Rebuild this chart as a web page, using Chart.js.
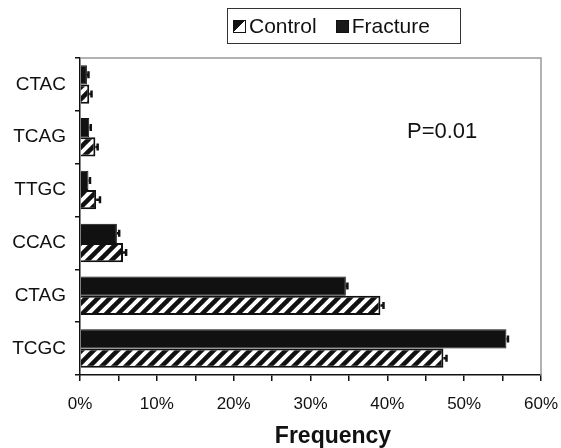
<!DOCTYPE html>
<html>
<head>
<meta charset="utf-8">
<script src="https://cdn.jsdelivr.net/npm/chart.js@4"></script>
<style>
  html, body { margin: 0; padding: 0; background: #fff; }
  #wrap { position: relative; width: 561px; height: 448px; }
  #legend {
    position: absolute; left: 227px; top: 8px; width: 232px; height: 34px;
    border: 1px solid #333; font-family: "Liberation Sans", Arial, sans-serif;
    font-size: 21px; color: #111; display: flex; align-items: center;
  }
  .item { display: flex; align-items: center; margin-left: 5px; }
  .item + .item { margin-left: 19px; }
  .box { width: 11px; height: 11px; border: 1.5px solid #111; margin-right: 3px; }
  .hatch { background: linear-gradient(135deg, #111 50%, #fff 50%); }
  .solid { background: #1a1a1a; }
</style>
</head>
<body>
<div id="wrap">
  <canvas id="freqChart" width="561" height="448"></canvas>
  <div id="legend">
    <div class="item"><span class="box hatch"></span>Control</div>
    <div class="item"><span class="box solid"></span>Fracture</div>
  </div>
</div>
<script>
  // categories, top to bottom
  const haplotypes = ['CTAC', 'TCAG', 'TTGC', 'CCAC', 'CTAG', 'TCGC'];
  // frequencies in %
  const fractureFreq = [0.9, 1.2, 1.1, 4.8, 34.6, 55.5];
  const controlFreq = [1.2, 2.0, 2.1, 5.6, 39.1, 47.3];
  const fractureErr = [0.2, 0.2, 0.2, 0.3, 0.2, 0.2];
  const controlErr = [0.3, 0.3, 0.5, 0.4, 0.4, 0.4];
  const xTicks = [0, 10, 20, 30, 40, 50, 60];
  const pValue = 'P=0.01';

  const FONT = '"Liberation Sans", Arial, sans-serif';

  // diagonal hatch for the control bars
  function makeHatch() {
    const s = 12;
    const c = document.createElement('canvas');
    c.width = s; c.height = s;
    const g = c.getContext('2d');
    g.fillStyle = '#fff';
    g.fillRect(0, 0, s, s);
    g.strokeStyle = '#111';
    g.lineWidth = 4.5;
    [[0, s, s, 0], [-s / 2, s / 2, s / 2, -s / 2], [s / 2, s * 1.5, s * 1.5, s / 2]].forEach(l => {
      g.beginPath(); g.moveTo(l[0], l[1]); g.lineTo(l[2], l[3]); g.stroke();
    });
    return g.createPattern(c, 'repeat');
  }
  const ctx = document.getElementById('freqChart').getContext('2d');
  const hatch = makeHatch();

  // frame, error bars, P text, axis title
  const extras = {
    id: 'extras',
    afterDatasetsDraw(chart) {
      const c = chart.ctx;
      const a = chart.chartArea;
      const xs = chart.scales.x;
      c.save();
      c.strokeStyle = '#999';
      c.lineWidth = 1.5;
      c.beginPath();
      c.moveTo(a.left, a.top); c.lineTo(a.right, a.top); c.lineTo(a.right, a.bottom);
      c.stroke();

      const errs = [fractureErr, controlErr];
      c.strokeStyle = '#111';
      c.lineWidth = 2.5;
      chart.data.datasets.forEach((ds, di) => {
        chart.getDatasetMeta(di).data.forEach((bar, i) => {
          const x0 = xs.getPixelForValue(ds.data[i]);
          const x1 = xs.getPixelForValue(ds.data[i] + errs[di][i]);
          c.beginPath();
          c.moveTo(x0, bar.y); c.lineTo(x1, bar.y);
          c.moveTo(x1, bar.y - 3.5); c.lineTo(x1, bar.y + 3.5);
          c.stroke();
        });
      });

      c.fillStyle = '#111';
      c.font = '22px ' + FONT;
      c.textAlign = 'left';
      c.textBaseline = 'alphabetic';
      c.fillText(pValue, 407, 138);

      c.font = 'bold 23px ' + FONT;
      c.textAlign = 'center';
      c.fillText('Frequency', 333, 443);
      c.restore();
    }
  };

  const freqChart = new Chart(ctx, {
    type: 'bar',
    data: {
      labels: haplotypes,
      datasets: [
        {
          label: 'Fracture',
          data: fractureFreq,
          backgroundColor: '#111',
          borderColor: '#111',
          borderWidth: 1
        },
        {
          label: 'Control',
          data: controlFreq,
          backgroundColor: hatch,
          borderColor: '#111',
          borderWidth: 2
        }
      ]
    },
    options: {
      indexAxis: 'y',
      responsive: false,
      animation: false,
      layout: { padding: { top: 58, right: 20, left: 0, bottom: 0 } },
      datasets: {
        bar: { categoryPercentage: 0.73, barPercentage: 1 }
      },
      plugins: {
        legend: { display: false },
        tooltip: { enabled: false }
      },
      scales: {
        x: {
          min: 0,
          max: 60,
          afterFit: s => {
            s.height = 73;
            s.paddingLeft = 0;
            s.paddingRight = 0;
          },
          afterBuildTicks: s => {
            const t = [];
            for (let v = 0; v <= 60; v += 5) t.push({ value: v });
            s.ticks = t;
          },
          ticks: {
            autoSkip: false,
            maxRotation: 0,
            padding: 13,
            color: '#111',
            font: { family: FONT, size: 17 },
            callback: v => xTicks.includes(v) ? v + '%' : ''
          },
          border: { color: '#111', width: 1.5 },
          grid: { drawOnChartArea: false, tickLength: 6, color: '#111', lineWidth: 1.5 }
        },
        y: {
          afterFit: s => {
            s.width = 80;
            s.paddingTop = 0;
            s.paddingBottom = 0;
          },
          ticks: {
            padding: 9,
            color: '#111',
            font: { family: FONT, size: 19 }
          },
          border: { color: '#111', width: 1.5 },
          grid: { drawOnChartArea: false, offset: true, tickLength: 5, color: '#111', lineWidth: 1.5 }
        }
      }
    },
    plugins: [extras]
  });
</script>
</body>
</html>
